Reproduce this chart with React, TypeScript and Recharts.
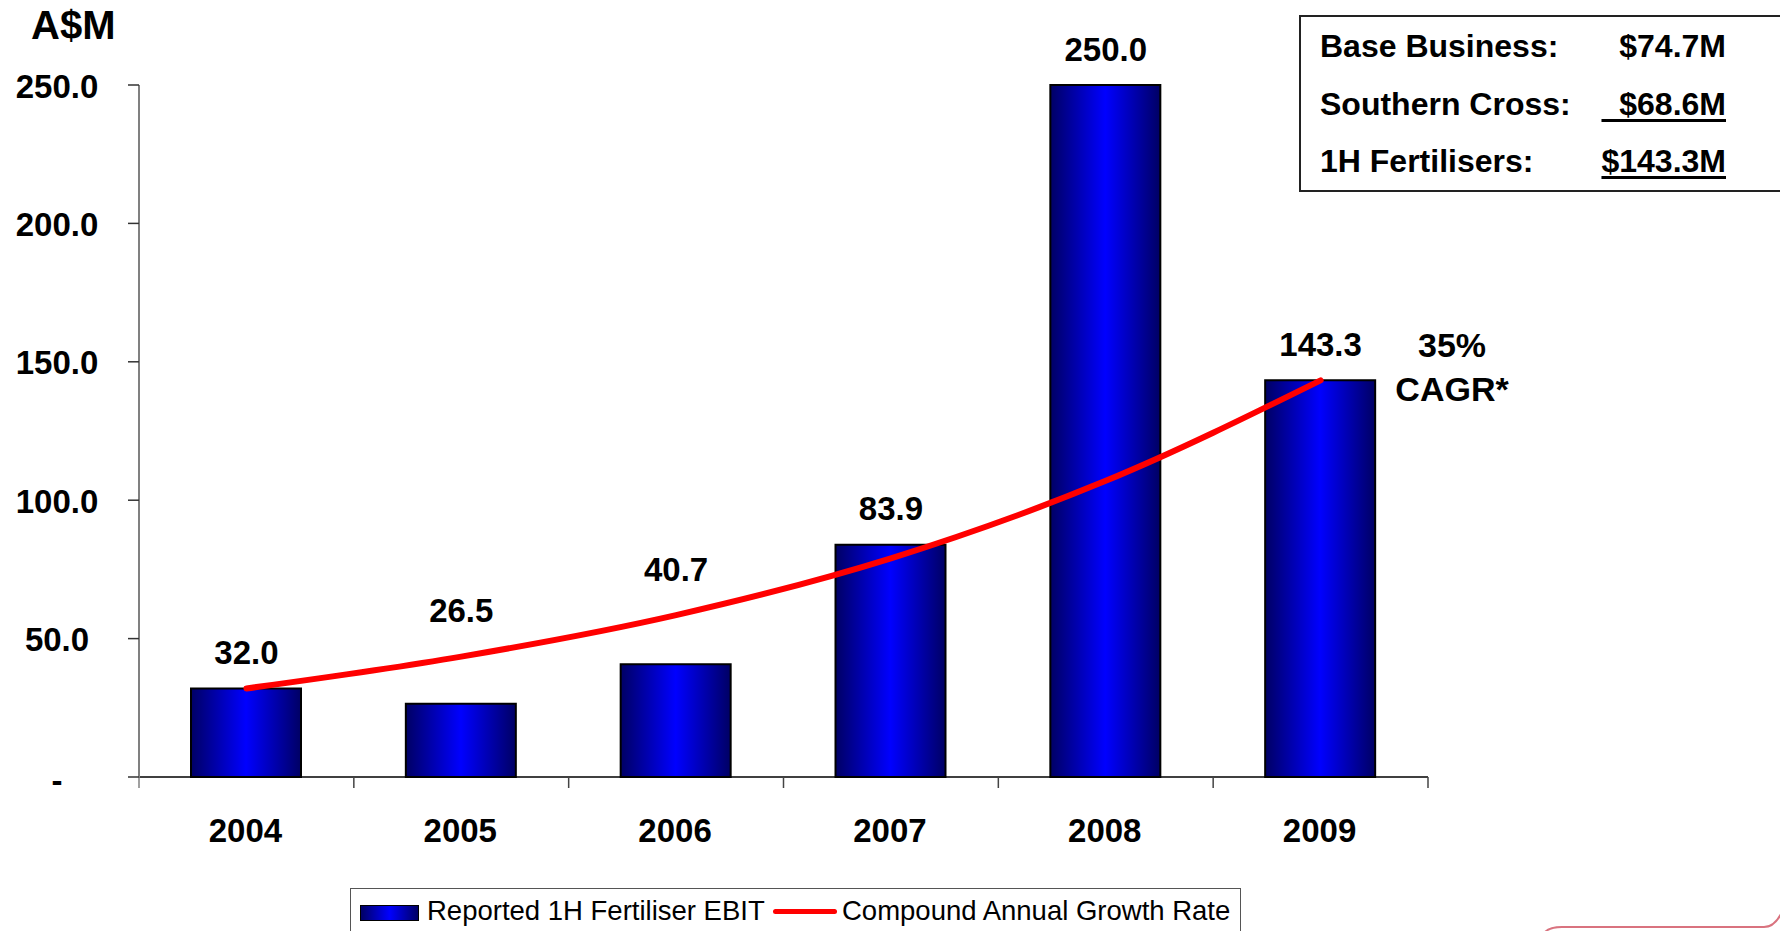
import React from "react";
import { Bar, ComposedChart, Line, XAxis, YAxis } from "recharts";

const years = ["2004", "2005", "2006", "2007", "2008", "2009"];
const ebit = [32.0, 26.5, 40.7, 83.9, 250.0, 143.3];
// CAGR trend line
const cagr = [32.0, 43.5, 58.5, 79.0, 107.0, 143.3];
const yTicks = [0, 50, 100, 150, 200, 250];

const summaryLabels = ["Base Business:", "Southern Cross:", "1H Fertilisers:"];
const summaryValues = ["$74.7M", "  $68.6M", "$143.3M"];
const summaryUnderlined = [false, true, true];

const W = 1780;
const H = 931;
const PLOT_L = 139;
const PLOT_R = 1428;
const PLOT_T = 85;
const PLOT_B = 777;
const BAND = (PLOT_R - PLOT_L) / years.length;
const FONT = '"Liberation Sans", Arial, sans-serif';

const data = years.map((year, i) => ({
  year,
  ebit: ebit[i],
  cagr: cagr[i],
  labelAt: Math.max(ebit[i], cagr[i]),
}));

function XTick(props: any) {
  const { x, y, payload, index } = props;
  const left = x - BAND / 2;
  return (
    <g>
      <line x1={left} x2={left} y1={y} y2={y + 11} stroke={index === 0 ? "#808080" : "#444"} strokeWidth={1.5} />
      {index === years.length - 1 && (
        <line x1={x + BAND / 2} x2={x + BAND / 2} y1={y} y2={y + 11} stroke="#444" strokeWidth={1.5} />
      )}
      <text x={x - 1} y={y + 53} textAnchor="middle" dominantBaseline="central" fontFamily={FONT} fontWeight="bold" fontSize={33} fill="#000">
        {payload.value}
      </text>
    </g>
  );
}

function YTick(props: any) {
  const { x, y, payload } = props;
  const v = payload.value as number;
  return (
    <g>
      <line x1={x - 11} x2={x} y1={y} y2={y} stroke="#333" strokeWidth={1.5} />
      <text x={57} y={v === 0 ? y + 3 : y + 1} textAnchor="middle" dominantBaseline="central" fontFamily={FONT} fontWeight="bold" fontSize={33} fill="#000">
        {v === 0 ? "-" : v.toFixed(1)}
      </text>
    </g>
  );
}

function ValueLabel(props: any) {
  const { x, y, index } = props;
  const lifted = cagr[index] > ebit[index];
  return (
    <text x={x} y={y - (lifted ? 46 : 36)} textAnchor="middle" dominantBaseline="central" fontFamily={FONT} fontWeight="bold" fontSize={33} fill="#000">
      {ebit[index].toFixed(1)}
    </text>
  );
}

export default function App() {
  return (
    <div style={{ position: "absolute", left: 0, top: 0, width: W, height: H, overflow: "hidden", background: "#fff", fontFamily: FONT }}>
      <ComposedChart
        width={W}
        height={H}
        data={data}
        margin={{ top: PLOT_T, right: W - PLOT_R, bottom: H - PLOT_B - 100, left: 0 }}
      >
        <defs>
          <linearGradient id="barGrad" x1="0" y1="0" x2="1" y2="0">
            <stop offset="0%" stopColor="#000064" />
            <stop offset="50%" stopColor="#0000ff" />
            <stop offset="100%" stopColor="#000064" />
          </linearGradient>
        </defs>
        <XAxis
          dataKey="year"
          height={100}
          tickSize={0}
          tickMargin={0}
          tickLine={false}
          axisLine={{ stroke: "#000", strokeWidth: 1.5 }}
          tick={<XTick />}
          interval={0}
        />
        <YAxis
          width={PLOT_L}
          domain={[0, 250]}
          ticks={yTicks}
          tickSize={0}
          tickMargin={0}
          tickLine={false}
          axisLine={{ stroke: "#808080", strokeWidth: 2 }}
          tick={<YTick />}
          interval={0}
        />
        <Bar dataKey="ebit" barSize={110} fill="url(#barGrad)" stroke="#000" strokeWidth={2} isAnimationActive={false} />
        <Line
          dataKey="cagr"
          type="monotone"
          stroke="#ff0000"
          strokeWidth={6}
          strokeLinecap="round"
          dot={false}
          activeDot={false}
          isAnimationActive={false}
        />
        <Line
          dataKey="labelAt"
          stroke="none"
          dot={false}
          activeDot={false}
          legendType="none"
          label={<ValueLabel />}
          isAnimationActive={false}
        />
      </ComposedChart>

      <div style={{ position: "absolute", left: 31, top: 2, fontSize: 40, fontWeight: "bold", lineHeight: "46px" }}>A$M</div>

      <div style={{ position: "absolute", left: 1391, top: 323, width: 122, textAlign: "center", fontSize: 34, fontWeight: "bold", lineHeight: "44px" }}>
        35%
        <br />
        CAGR*
      </div>

      <div style={{ position: "absolute", left: 1299, top: 15, width: 600, height: 173, border: "2px solid #222" }} />
      {summaryLabels.map((label, i) => (
        <React.Fragment key={label}>
          <div style={{ position: "absolute", left: 1320, top: 46 + i * 57.5 - 20, fontSize: 32, fontWeight: "bold", lineHeight: "40px", whiteSpace: "pre" }}>
            {label}
          </div>
          <div
            style={{
              position: "absolute",
              left: 1526,
              width: 200,
              textAlign: "right",
              top: 46 + i * 57.5 - 20,
              fontSize: 32,
              fontWeight: "bold",
              lineHeight: "40px",
              whiteSpace: "pre",
              textDecoration: summaryUnderlined[i] ? "underline" : "none",
              textDecorationThickness: "3px",
              textUnderlineOffset: "4px",
            }}
          >
            {summaryValues[i]}
          </div>
        </React.Fragment>
      ))}

      <div style={{ position: "absolute", left: 350, top: 888, width: 889, height: 80, border: "1.5px solid #555" }} />
      <div
        style={{
          position: "absolute",
          left: 360,
          top: 905,
          width: 57,
          height: 14,
          border: "1.5px solid #000",
          background: "linear-gradient(to right, #000064, #0000ff, #000064)",
        }}
      />
      <div style={{ position: "absolute", left: 427, top: 895, fontSize: 27.5, lineHeight: "32px", whiteSpace: "pre" }}>
        Reported 1H Fertiliser EBIT
      </div>
      <div style={{ position: "absolute", left: 773, top: 909, width: 64, height: 5, borderRadius: 3, background: "#ff0000" }} />
      <div style={{ position: "absolute", left: 842, top: 895, fontSize: 27.5, lineHeight: "32px", whiteSpace: "pre" }}>
        Compound Annual Growth Rate
      </div>

      <svg style={{ position: "absolute", left: 0, top: 0 }} width={W} height={H} pointerEvents="none">
        <path d="M 1545 932 Q 1550 927 1562 927 L 1764 927 Q 1774 927 1781 914" fill="none" stroke="#d9737f" strokeWidth={2} />
      </svg>
    </div>
  );
}
